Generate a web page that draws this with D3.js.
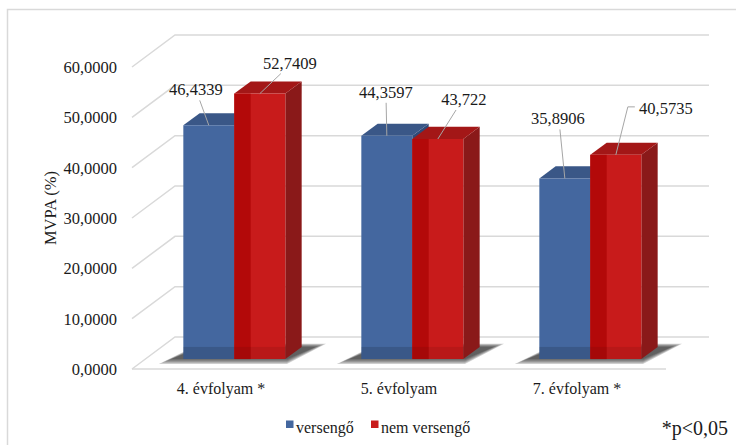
<!DOCTYPE html>
<html>
<head>
<meta charset="utf-8">
<script src="https://cdn.jsdelivr.net/npm/d3@7"></script>
<style>
    body { margin: 0; background: #fff; }
</style>
</head>
<body>
<div id="chart"></div>
<script>
// Data
var categories = ["4. évfolyam *", "5. évfolyam", "7. évfolyam *"];
var versengo = [46.4339, 44.3597, 35.8906];
var nemVersengo = [52.7409, 43.722, 40.5735];
var seriesNames = ["versengő", "nem versengő"];
var yTicks = [0, 10, 20, 30, 40, 50, 60];

// Label placement relative to the top-front centre of each bar (layout, not data)
var labelOffsets = [
    [[-13, -36], [30, -31]],
    [[-1, -44], [26, -40]],
    [[-7, -60], [50, -47]]
];

var chartW = 736, chartH = 445;

// Depth projection of the 3D box
var DX = 43, DY = 32;
var dFront = 0.31, dBack = 0.69;

var xScale = d3.scaleBand()
    .domain(categories)
    .range([132, 666]);

var yScale = d3.scaleLinear()
    .domain([0, 60])
    .range([369, 67]);

function P(x, v, d) {
    return [x + d * DX, yScale(v) - d * DY];
}

function fmt(v) {
    return String(v).replace(".", ",");
}

var colours = {
    front: ["#44679f", "#c81b1b"],
    top: ["#3a5787", "#a31717"],
    side: ["#2f4a78", "#8a1919"]
};

var svg = d3.select("#chart")
    .append("svg")
    .attr("width", chartW)
    .attr("height", chartH);

// Outer chart frame
svg.append("rect")
    .attr("x", 7.5)
    .attr("y", 9.5)
    .attr("width", 760)
    .attr("height", 460)
    .attr("fill", "none")
    .attr("stroke", "#d9d9d9")
    .attr("stroke-width", 1.5);

// Gridlines: diagonal on the side wall, horizontal on the back wall
var grid = svg.append("g").attr("class", "grid");
var lineGen = d3.line();
var x0 = xScale.range()[0], x1 = xScale.range()[1];
yTicks.forEach(function (t) {
    grid.append("path")
        .attr("d", lineGen([P(x0, t, 0), P(x0, t, 1), P(x1, t, 1)]))
        .attr("fill", "none")
        .attr("stroke", "#d9d9d9")
        .attr("stroke-width", 1.5);
});
// Floor front edge
grid.append("path")
    .attr("d", lineGen([P(x0, 0, 0), P(x1, 0, 0)]))
    .attr("stroke", "#d9d9d9")
    .attr("stroke-width", 1.5);

function txt(g, size) {
    return g.append("text")
        .style("font-family", "'Liberation Serif', monospace")
        .style("font-size", size + "px")
        .style("fill", "#1a1a1a");
}

// Y tick labels
yTicks.forEach(function (t) {
    txt(svg, 16.5)
        .attr("x", 117)
        .attr("y", yScale(t) + 6)
        .attr("text-anchor", "end")
        .text(d3.format(".4f")(t).replace(".", ","));
});

// Y axis title
txt(svg, 16.5)
    .attr("transform", "translate(56,208)rotate(-90)")
    .attr("text-anchor", "middle")
    .text("MVPA (%)");

// Category labels
categories.forEach(function (cat) {
    txt(svg, 16)
        .attr("x", xScale(cat) + xScale.bandwidth() / 2)
        .attr("y", 394)
        .attr("text-anchor", "middle")
        .text(cat);
});

var barW = 51;
var series = [versengo, nemVersengo];

function poly(g, pts, fill) {
    return g.append("path")
        .attr("d", lineGen(pts) + "Z")
        .attr("fill", fill);
}

var bars = svg.append("g").attr("class", "bars");

// Soft shadows on the floor, built from stacked translucent layers
categories.forEach(function (cat) {
    var left = xScale(cat) + (xScale.bandwidth() - 2 * barW) / 2;
    var right = left + 2 * barW;
    [6, 4.5, 3, 1.5, 0].forEach(function (g) {
        poly(bars, [P(left - 12 - g, 0, dFront - g / 40), P(right + 2 + g, 0, dFront - g / 40),
                    P(right + 14 + g, 0, dBack + g / 60), P(left + 2 - g, 0, dBack + g / 60)], "#1e1e1e")
            .attr("opacity", 0.22);
    });
});

// Bars: blue first, red drawn in front of it
categories.forEach(function (cat, i) {
    var left = xScale(cat) + (xScale.bandwidth() - 2 * barW) / 2;
    series.forEach(function (vals, s) {
        var v = vals[i];
        var bx = left + s * barW;
        var g = bars.append("g");
        // right side face
        poly(g, [P(bx + barW, 0, dFront), P(bx + barW, 0, dBack),
                 P(bx + barW, v, dBack), P(bx + barW, v, dFront)], colours.side[s]);
        // top face
        poly(g, [P(bx, v, dFront), P(bx + barW, v, dFront),
                 P(bx + barW, v, dBack), P(bx, v, dBack)], colours.top[s]);
        // front face
        poly(g, [P(bx, 0, dFront), P(bx + barW, 0, dFront),
                 P(bx + barW, v, dFront), P(bx, v, dFront)], colours.front[s]);
        var fTop = P(bx, v, dFront)[1];
        var fBot = P(bx, 0, dFront)[1];
        var depthX = (dBack - dFront) * DX;
        var depthY = (dBack - dFront) * DY;
        // inner left face showing through the red bar
        if (s === 1) {
            g.append("rect")
                .attr("x", bx + dFront * DX)
                .attr("y", fTop)
                .attr("width", depthX)
                .attr("height", fBot - fTop)
                .attr("fill", "#b30909");
        }
        // floor footprint showing through the lower part
        g.append("rect")
            .attr("x", bx + dFront * DX)
            .attr("y", fBot - depthY)
            .attr("width", barW)
            .attr("height", depthY)
            .attr("fill", "#000")
            .attr("opacity", s === 0 ? 0.14 : 0.08);
    });
});

// Data labels with leader lines
var labels = svg.append("g").attr("class", "labels");
categories.forEach(function (cat, i) {
    var left = xScale(cat) + (xScale.bandwidth() - 2 * barW) / 2;
    series.forEach(function (vals, s) {
        var v = vals[i];
        var bx = left + s * barW;
        var anchor = P(bx + barW / 2, v, dFront);
        var off = labelOffsets[i][s];
        var lx = anchor[0] + off[0], ly = anchor[1] + off[1];
        var pts;
        if (off[0] > 40) {
            // label off to the right: leader leaves the left side with a short tick
            pts = [[lx - 31, ly - 1], [lx - 38, ly - 1], anchor];
        } else {
            pts = [[lx + (anchor[0] - lx) * 0.3, ly + 11], anchor];
        }
        labels.append("path")
            .attr("d", lineGen(pts))
            .attr("fill", "none")
            .attr("stroke", "#a6a6a6")
            .attr("stroke-width", 1);
        txt(labels, 16.5)
            .attr("x", lx)
            .attr("y", ly + 6)
            .attr("text-anchor", "middle")
            .text(fmt(v));
    });
});

// Legend
var legendX = [286, 371];
var legend = svg.append("g").attr("class", "legend");
seriesNames.forEach(function (name, s) {
    legend.append("rect")
        .attr("x", legendX[s])
        .attr("y", 420.5)
        .attr("width", 7.5)
        .attr("height", 7.5)
        .attr("fill", colours.front[s]);
    txt(legend, 16)
        .attr("x", legendX[s] + 10)
        .attr("y", 433)
        .text(name);
});

// Significance note
txt(svg, 20)
    .attr("x", 728)
    .attr("y", 435)
    .attr("text-anchor", "end")
    .text("*p<0,05");
</script>
</body>
</html>
